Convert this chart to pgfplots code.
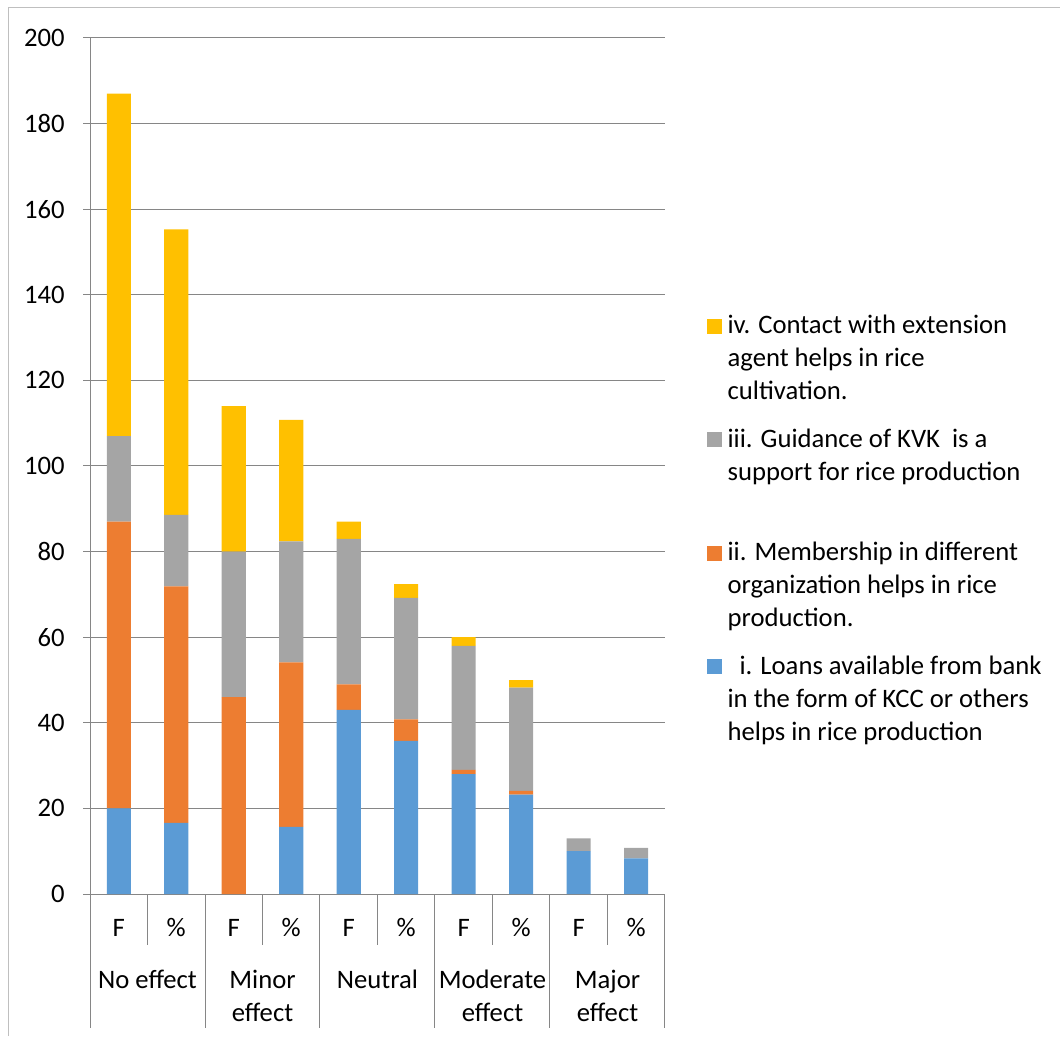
\documentclass[border=0pt]{standalone}
\usepackage{pgfplots}
\pgfplotsset{compat=1.18}
\usepackage{fontspec}
\setmainfont{Carlito}

\definecolor{serI}{HTML}{5B9BD5}
\definecolor{serII}{HTML}{ED7D31}
\definecolor{serIII}{HTML}{A5A5A5}
\definecolor{serIV}{HTML}{FFC000}
\definecolor{gridgray}{HTML}{868686}
\definecolor{framegray}{HTML}{BFBFBF}
\newcommand{\chartfont}{\fontsize{20}{24.75}\selectfont}

\begin{document}
\begin{tikzpicture}[font=\chartfont]
\useasboundingbox (0pt,0pt) rectangle (795pt,777pt);
% chart area frame (top and left edges)
\draw[framegray, line width=0.75pt] (6pt,0pt) -- (6pt,771pt) -- (795pt,771pt);
\begin{axis}[
  at={(67.5pt,106.5pt)}, anchor=south west,
  scale only axis, width=431.25pt, height=642pt,
  ybar stacked, bar width=18pt,
  xmin=-0.5, xmax=9.5, ymin=0, ymax=200,
  ytick={0,20,...,200},
  xtick={0,...,9},
  xticklabels={F,\%,F,\%,F,\%,F,\%,F,\%},
  axis x line*=bottom, axis y line*=left,
  axis line style={-, gridgray, line width=0.75pt},
  ymajorgrids, grid style={gridgray, line width=0.75pt},
  tick align=outside, major tick length=5.25pt,
  tick style={gridgray, line width=0.75pt},
  xtick style={draw=none},
  /pgf/number format/assume math mode=true,
  ticklabel style={font=\chartfont, text=black},
  yticklabel style={inner sep=0pt, xshift=-13.5pt},
  xticklabel style={anchor=base, inner sep=0pt, yshift=-26.5pt},
  clip=false,
  reverse legend,
  legend image code/.code={\fill[#1] (0pt,0pt) rectangle (11.25pt,11.25pt);},
  legend style={at={(1.073,0.6846)}, anchor=north west, draw=none, fill=none,
    inner sep=0pt, outer sep=0pt, row sep=62.25pt, column sep=2.25pt,
    font=\chartfont, cells={anchor=base west, inner sep=0pt}},
]
% i. Loans
\addplot[fill=serI, draw=none] coordinates {(0,20) (1,16.6) (2,0) (3,15.7) (4,43) (5,35.8) (6,28) (7,23.2) (8,10) (9,8.3)};
\addlegendentry{\parbox[t]{330pt}{\strut\hspace*{9pt}i. Loans available from bank\\in the form of KCC or others\\helps in rice production\strut}}
% ii. Membership
\addplot[fill=serII, draw=none] coordinates {(0,67) (1,55.3) (2,46) (3,38.4) (4,6) (5,5.0) (6,1) (7,0.9) (8,0) (9,0)};
\addlegendentry{\parbox[t]{330pt}{\strut ii. Membership in different\\organization helps in rice\\production.\strut}}
% iii. Guidance of KVK
\addplot[fill=serIII, draw=none] coordinates {(0,20) (1,16.7) (2,34) (3,28.3) (4,34) (5,28.4) (6,29) (7,24.1) (8,3) (9,2.5)};
\addlegendentry{\parbox[t]{330pt}{\strut iii. Guidance of KVK\ \ is a\\support for rice production\\\strut}}
% iv. Contact with extension agent
\addplot[fill=serIV, draw=none] coordinates {(0,80) (1,66.7) (2,34) (3,28.4) (4,4) (5,3.2) (6,2) (7,1.8) (8,0) (9,0)};
\addlegendentry{\parbox[t]{330pt}{\strut iv. Contact with extension\\agent helps in rice\\cultivation.\strut}}

% category separators below the axis
\pgfplotsinvokeforeach{-0.5,1.5,3.5,5.5,7.5,9.5}{
  \draw[gridgray, line width=0.75pt] (axis cs:#1,0) -- ++(0pt,-100.5pt);
}
\pgfplotsinvokeforeach{0.5,2.5,4.5,6.5,8.5}{
  \draw[gridgray, line width=0.75pt] (axis cs:#1,0) -- ++(0pt,-38.25pt);
}
% group names
\node[anchor=base, yshift=-70.5pt] at (axis cs:0.5,0) {No effect};
\node[anchor=base, yshift=-70.5pt] at (axis cs:2.5,0) {Minor};
\node[anchor=base, yshift=-95.25pt] at (axis cs:2.5,0) {effect};
\node[anchor=base, yshift=-70.5pt] at (axis cs:4.5,0) {Neutral};
\node[anchor=base, yshift=-70.5pt] at (axis cs:6.5,0) {Moderate};
\node[anchor=base, yshift=-95.25pt] at (axis cs:6.5,0) {effect};
\node[anchor=base, yshift=-70.5pt] at (axis cs:8.5,0) {Major};
\node[anchor=base, yshift=-95.25pt] at (axis cs:8.5,0) {effect};
\end{axis}
\end{tikzpicture}
\end{document}
